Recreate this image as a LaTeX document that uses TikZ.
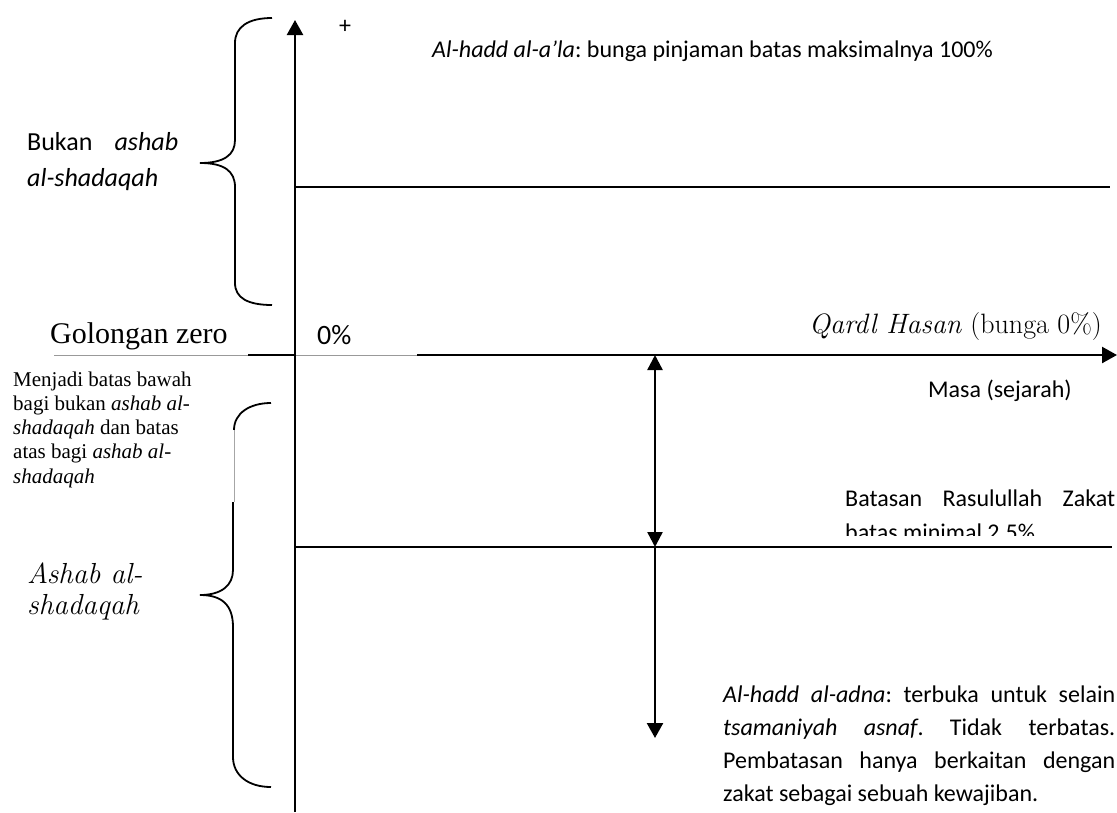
\documentclass[tikz,border=0pt]{standalone}
\usepackage{fontspec}
\usetikzlibrary{arrows.meta}
\newfontfamily\calibrif{Carlito}
\newfontfamily\timesf{Liberation Serif}
\frenchspacing
\tikzset{
  ax/.style={line width=2.4pt, draw=black},
  hln/.style={line width=2pt, draw=black},
  brc/.style={line width=1.8pt, draw=black},
  tipend/.style={-{Triangle[width=16pt,length=15pt]}},
  tipboth/.style={{Triangle[width=15pt,length=15pt]}-{Triangle[width=15pt,length=15pt]}},
  lbl/.style={inner sep=0pt, anchor=base west},
  calf/.style={font=\calibrif\fontsize{24}{29}\selectfont},
  menf/.style={font=\timesf\fontsize{21}{24}\selectfont},
  adnaf/.style={font=\calibrif\fontsize{24}{33}\selectfont},
}
\begin{document}
\begin{tikzpicture}[x=1pt,y=-1pt]
\useasboundingbox (0,0) rectangle (1117,812);
% coordinates
\coordinate (vbot) at (295,812);
\coordinate (vtop) at (295,20);
\coordinate (hstart) at (248,355);
\coordinate (hcross) at (295,355);
\coordinate (hresume) at (417,355);
\coordinate (hend) at (1117,355);
\coordinate (gstart) at (54,355);
\coordinate (up1) at (295,187);
\coordinate (up2) at (1110,187);
\coordinate (lo1) at (295,547);
\coordinate (lo2) at (1112,547);
\coordinate (da1) at (655,355);
\coordinate (da2) at (655,547);
\coordinate (da3) at (655,738);
% thin grey underline
\draw[line width=0.9pt, draw=black!40] (gstart) -- (hresume);
% axes
\draw[ax] (hstart) -- (hcross);
\draw[ax, tipend] (hresume) -- (hend);
\draw[ax, tipend] (vbot) -- (vtop);
% horizontal levels
\draw[hln] (up1) -- (up2);
\draw[hln] (lo1) -- (lo2);
% vertical arrows
\draw[ax, tipboth] (da1) -- (da2);
\draw[ax, tipend] (da2) -- (da3);
% upper brace
\draw[brc] (272,18) .. controls (248,18) and (235,27) .. (235,43) -- (235,140)
  .. controls (235,155) and (224,163) .. (200,163)
  .. controls (224,163) and (235,171) .. (235,187) -- (235,283)
  .. controls (235,298) and (248,305) .. (272,305);
% lower brace
\draw[brc] (271,403) .. controls (250,403) and (234,413) .. (234,430);
\draw[line width=0.8pt, draw=black!35] (234,430) -- (234,502);
\draw[brc] (233,502) -- (233,570)
  .. controls (233,585) and (222,595) .. (200,595)
  .. controls (222,595) and (233,605) .. (233,627) -- (233,757)
  .. controls (233,775) and (248,787) .. (271,787);
% texts
\node[lbl, calf] (plus) at (339,33) {+};
\node[lbl, calf] (alala) at (432,57) {\textit{Al-hadd al-a’la}: bunga pinjaman batas maksimalnya 100\%};
\node[lbl, font=\calibrif\fontsize{26}{30}\selectfont] (bukan1) at (27,150) {\makebox[151pt][s]{Bukan \textit{ashab}}};
\node[lbl, font=\calibrif\fontsize{26}{30}\selectfont] (bukan2) at (27,186) {\textit{al-shadaqah}};
\node[lbl, font=\timesf\fontsize{30}{34}\selectfont] (golzero) at (50,343) {Golongan zero};
\node[lbl, font=\calibrif\fontsize{28}{32}\selectfont] (zerop) at (317,344) {0\%};
\node[inner sep=0pt, anchor=base east, font=\fontsize{28}{32}\selectfont] (qardl) at (1102,333) {\textit{Qardl Hasan} (bunga 0\%)};
\node[lbl, calf] (masa) at (928,397) {Masa (sejarah)};
\node[lbl, menf] (men1) at (13,386) {Menjadi batas bawah};
\node[lbl, menf] (men2) at (13,410) {bagi bukan \textit{ashab al-}};
\node[lbl, menf] (men3) at (13,434) {\textit{shadaqah} dan batas};
\node[lbl, menf] (men4) at (13,458) {atas bagi \textit{ashab al-}};
\node[lbl, menf] (men5) at (13,483) {\textit{shadaqah}};
\begin{scope}
\clip (840,470) rectangle (1117,535);
\node[lbl, calf] (bat1) at (845,506) {\makebox[270pt][s]{Batasan Rasulullah Zakat}};
\node[lbl, calf] (bat2) at (845,540) {batas minimal 2.5\%};
\end{scope}
\node[lbl, adnaf] (adna1) at (723,702) {\makebox[392pt][s]{\textit{Al-hadd al-adna}: terbuka untuk selain}};
\node[lbl, adnaf] (adna2) at (723,735) {\makebox[392pt][s]{\textit{tsamaniyah asnaf}. Tidak terbatas.}};
\node[lbl, adnaf] (adna3) at (723,768) {\makebox[392pt][s]{Pembatasan hanya berkaitan dengan}};
\node[lbl, adnaf] (adna4) at (723,801) {zakat sebagai sebuah kewajiban.};
\node[lbl, font=\fontsize{29}{32}\selectfont\itshape] (ashab1) at (27,583) {Ashab al-};
\node[lbl, font=\fontsize{29}{32}\selectfont\itshape] (ashab2) at (27,614) {shadaqah};
\end{tikzpicture}
\end{document}
